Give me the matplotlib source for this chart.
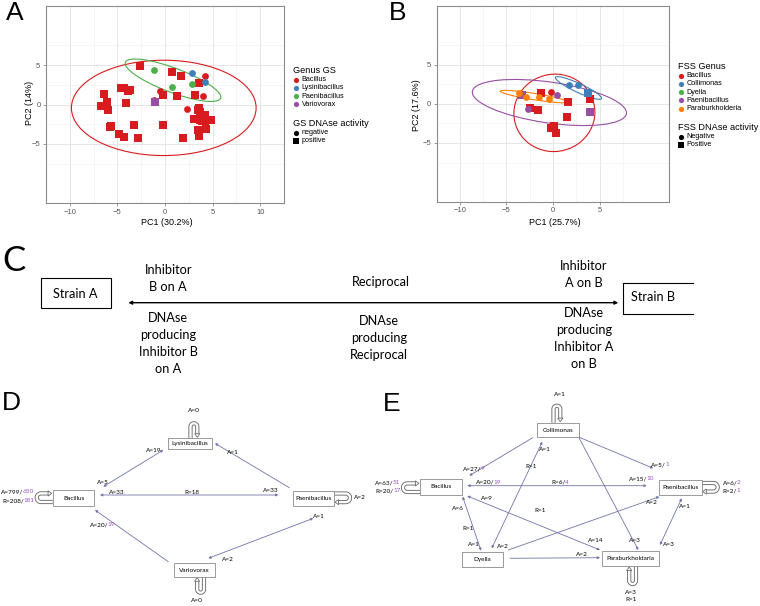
import numpy as np
import matplotlib.pyplot as plt
from matplotlib.patches import Ellipse, Rectangle, Polygon

plt.rcParams["font.family"] = ["Liberation Sans", "DejaVu Sans"]

# ---------------- panel A : GS strains PCA ----------------
gs_genus_names = ["Bacillus", "Lysinibacillus", "Paenibacillus", "Variovorax"]
gs_pc1 = [-2.65, 0.71, 1.68, 3.61, -4.61, -4.29, -3.65, -3.87, -6.45, -6.13, -6.77, -6.03,
          -4.10, -0.23, 1.26, 3.13, 3.58, 3.45, 3.68, 4.23, 3.00, 3.65, 3.87, 4.23, 4.81,
          -5.71, -5.77, -3.26, -0.19, -4.87, -4.32, -2.84, 3.48, 4.35, 3.58, 1.94,
          4.19, -0.48, -1.19, 2.29, 4.03,
          2.87, 4.16,
          -1.19, 0.77, 2.87,
          -1.00]
gs_pc2 = [4.84, 4.08, 3.64, 2.75, 2.09, 2.15, 1.80, 1.68, 1.27, 0.32, -0.16, -0.70,
          0.22, 1.17, 1.11, 1.17, -0.47, -0.66, -0.92, -1.36, -1.80, -1.93, -2.06, -2.12, -1.99,
          -2.69, -2.88, -2.56, -2.66, -3.77, -4.15, -4.27, -3.20, -3.10, -3.96, -4.21,
          3.64, 1.74, 0.60, -0.60, 1.11,
          3.96, 2.82,
          4.37, 2.25, 2.66,
          0.32]
gs_genus = ["Bacillus"] * 41 + ["Lysinibacillus"] * 2 + ["Paenibacillus"] * 3 + ["Variovorax"]
gs_dnase = ["positive"] * 36 + ["negative"] * 10 + ["positive"]

gs_ell_genus = ["Bacillus", "Paenibacillus"]
gs_ell_x = [-0.13, 0.84]
gs_ell_y = [-0.43, 3.08]
gs_ell_w = [19.4, 11.0]
gs_ell_h = [12.1, 3.0]
gs_ell_angle = [0, -25]

# ---------------- panel B : FSS strains PCA ----------------
fss_genus_names = ["Bacillus", "Collimonas", "Dyella", "Paenibacillus", "Paraburkholderia"]
fss_pc1 = [-1.24, 1.63, 3.97, -2.48, -1.63, 1.54, 0.08, -0.22, 0.30,
           -0.22,
           -3.61, -2.87, -1.52, -0.44,
           -3.28, -2.64, 0.41, 3.97,
           1.76, 2.73, 3.75]
fss_pc2 = [1.43, 0.27, 0.62, -0.49, -0.81, -1.65, -2.81, -3.11, -3.78,
           1.49,
           1.41, 0.86, 0.89, 0.68,
           1.16, -0.65, 1.08, -1.05,
           2.43, 2.41, 1.35]
fss_genus = (["Bacillus"] * 10 + ["Paraburkholderia"] * 4 + ["Paenibacillus"] * 4
             + ["Collimonas"] * 3)
fss_dnase = (["Positive"] * 9 + ["Negative"] * 5 + ["Positive", "Negative", "Negative", "Positive"]
             + ["Negative", "Negative", "Positive"])

fss_ell_genus = ["Bacillus", "Paenibacillus", "Paraburkholderia", "Collimonas"]
fss_ell_x = [0.15, -0.39, -2.04, 2.74]
fss_ell_y = [-1.15, 0.17, 0.93, 2.03]
fss_ell_w = [8.7, 16.8, 7.36, 5.64]
fss_ell_h = [9.9, 5.2, 0.8, 1.1]
fss_ell_angle = [-4, -10, -10.8, -29]

# ---------------- panel C text ----------------
c_left_top = ["Inhibitor", "B on A"]
c_left_bottom = ["DNAse", "producing", "Inhibitor B", "on A"]
c_mid_top = ["Reciprocal"]
c_mid_bottom = ["DNAse", "producing", "Reciprocal"]
c_right_top = ["Inhibitor", "A on B"]
c_right_bottom = ["DNAse", "producing", "Inhibitor A", "on B"]

# ---------------- panel D / E networks ----------------
d_nodes = ["Lysinibacillus", "Bacillus", "Paenibacillus", "Variovorax"]
d_labels = ["A=0", "A=19", "A=1", "A=5", "A=33", "R=18", "A=33", "A=2", "A=1",
            "A=20/19", "A=2", "A=0", "A=799/650", "R=208/181"]
e_nodes = ["Collimonas", "Bacillus", "Paenibacillus", "Dyella", "Paraburkholdaria"]
e_labels = ["A=1", "A=27/9", "A=1", "R=1", "A=5/1", "A=63/51", "R=20/17", "A=20/19",
            "R=6/4", "A=15/10", "A=6/2", "R=2/1", "A=9", "A=2", "A=1", "A=6", "R=1",
            "R=1", "A=14", "A=3", "A=3", "A=1", "A=2", "A=2", "A=3", "R=1"]

SET1 = ["#D81B1F", "#3F80B8", "#4DAF4A", "#984EA3", "#FF7F00"]
gs_colors = dict(zip(gs_genus_names, [SET1[0], SET1[1], SET1[2], SET1[3]]))
fss_colors = dict(zip(fss_genus_names, SET1))
PURPLE = "#9a55c2"
EDGE = "#7074a8"
LOOP = "#6a6a6a"

W, H = 760, 606
fig = plt.figure(figsize=(W / 100, H / 100), dpi=100)
ov = fig.add_axes([0, 0, 1, 1])
ov.set_xlim(0, W)
ov.set_ylim(H, 0)
ov.axis("off")
renderer = fig.canvas.get_renderer()


def px_axes(x0, y0, x1, y1):
    return fig.add_axes([x0 / W, 1 - y1 / H, (x1 - x0) / W, (y1 - y0) / H])


def pca_panel(ax, pc1, pc2, genus, dnase, colors, ell, xlim, ylim, xticks, yticks):
    ax.set_xlim(*xlim)
    ax.set_ylim(*ylim)
    ax.set_xticks(xticks)
    ax.set_yticks(yticks)
    ax.set_xticks(np.arange(-12.5, 12.6, 5), minor=True)
    ax.set_yticks(np.arange(-12.5, 12.6, 5), minor=True)
    ax.grid(which="major", color="#e6e6e6", lw=0.7)
    ax.grid(which="minor", color="#f2f2f2", lw=0.5)
    ax.set_axisbelow(True)
    for sp in ax.spines.values():
        sp.set_color("#8c8c8c")
        sp.set_linewidth(0.8)
    ax.tick_params(which="major", length=2.5, width=0.6, color="#8c8c8c",
                   labelsize=5.5, labelcolor="#555555", pad=1.5)
    ax.tick_params(which="minor", length=0)
    for g, cx, cy, w, h, a in zip(*ell):
        ax.add_patch(Ellipse((cx, cy), w, h, angle=a, fill=False,
                             ec=colors[g], lw=0.8, zorder=2))
    pc1 = np.array(pc1)
    pc2 = np.array(pc2)
    genus = np.array(genus)
    dnase = np.array([d.lower() for d in dnase])
    for g, col in colors.items():
        for act, mk, s in (("negative", "o", 24), ("positive", "s", 28)):
            sel = (genus == g) & (dnase == act)
            if sel.any():
                ax.scatter(pc1[sel], pc2[sel], marker=mk, s=s, color=col, lw=0, zorder=3)


axA = px_axes(46, 6, 284, 203)
pca_panel(axA, gs_pc1, gs_pc2, gs_genus, gs_dnase, gs_colors,
          (gs_ell_genus, gs_ell_x, gs_ell_y, gs_ell_w, gs_ell_h, gs_ell_angle),
          (-11.64, 11.35), (-9.62, 9.1), [-10, -5, 0, 5, 10], [-5, 0, 5])
axB = px_axes(436.7, 6, 669.3, 201.7)
pca_panel(axB, fss_pc1, fss_pc2, fss_genus, fss_dnase, fss_colors,
          (fss_ell_genus, fss_ell_x, fss_ell_y, fss_ell_w, fss_ell_h, fss_ell_angle),
          (-10.0, 9.22), (-8.95, 6.92), [-10, -5, 0, 5], [-5, 0, 5])

# axis titles
ov.text(166.7, 222.7, "PC1 (30.2%)", fontsize=6.5, ha="center", va="center")
ov.text(30, 103, "PC2 (14%)", fontsize=6.5, ha="center", va="center", rotation=90)
ov.text(555, 222.7, "PC1 (25.7%)", fontsize=6.5, ha="center", va="center")
ov.text(416.7, 105, "PC2 (17.6%)", fontsize=6.5, ha="center", va="center", rotation=90)


def legend(x, y, title1, names, colors, title2, acts, step=8.2):
    ov.text(x, y, title1, fontsize=6.6, va="center")
    y += 9
    for n in names:
        ov.scatter([x + 3.2], [y], marker="o", s=14, color=colors[n], lw=0)
        ov.text(x + 8.8, y, n, fontsize=5.2, va="center")
        y += step
    y += 11
    ov.text(x, y, title2, fontsize=6.6, va="center")
    y += 9
    for a, mk in zip(acts, ["o", "s"]):
        ov.scatter([x + 3.2], [y], marker=mk, s=14, color="black", lw=0)
        ov.text(x + 8.8, y, a, fontsize=5.2, va="center")
        y += step


legend(292.7, 70.7, "Genus GS", gs_genus_names, gs_colors, "GS DNAse activity",
       ["negative", "positive"])
legend(677.7, 66.7, "FSS Genus", fss_genus_names, fss_colors, "FSS DNAse activity",
       ["Negative", "Positive"])

# panel letters
for letter, x, y in (("A", 15, 13.5), ("B", 398, 13.5), ("D", 11, 403), ("E", 392, 404)):
    ov.text(x, y, letter, fontsize=19, ha="center", va="center")
ov.text(2, 261, "C", fontsize=25, ha="left", va="center", family="Lato")

# ---------------- panel C ----------------
CF = dict(fontsize=9.2, family="Lato", ha="center", va="center")
ov.add_patch(Rectangle((40.7, 278.3), 70, 30, fill=False, ec="black", lw=0.8))
ov.text(75.7, 294.5, "Strain A", **CF)
ov.plot([693.3, 623.3, 623.3, 693.3], [283.3, 283.3, 314.3, 314.3], color="black", lw=0.8)
ov.text(653.3, 297.3, "Strain B", **CF)
ov.annotate("", xy=(618.3, 302.7), xytext=(128.3, 302.7),
            arrowprops=dict(arrowstyle="<|-|>", color="black", lw=1.0,
                            mutation_scale=5, shrinkA=0, shrinkB=0))
for lines, x, y0 in ((c_left_top, 168.3, 270), (c_left_bottom, 168.3, 318.3),
                     (c_mid_top, 381, 281.7), (c_mid_bottom, 379, 321),
                     (c_right_top, 584, 265.7), (c_right_bottom, 584, 313.3)):
    for i, s in enumerate(lines):
        ov.text(x, y0 + i * 17, s, **CF)

# ---------------- panels D / E ----------------
NF = dict(fontsize=4.6, family="Lato")


def node(name, x0, y0, x1, y1):
    ov.add_patch(Rectangle((x0, y0), x1 - x0, y1 - y0, fill=True, fc="white",
                           ec="#8a8a8a", lw=0.6, zorder=3))
    ov.text((x0 + x1) / 2, (y0 + y1) / 2, name, ha="center", va="center", zorder=4, **NF)


def edge(p0, p1, both):
    ov.annotate("", xy=p1, xytext=p0,
                arrowprops=dict(arrowstyle="<|-|>" if both else "-|>", color=EDGE,
                                lw=0.6, mutation_scale=3.5, shrinkA=0, shrinkB=0))


def label(s, x, y, align=0.5):
    # black count, with the part after "/" in purple
    k = s.index("/") + 1 if "/" in s else len(s)
    t1 = ov.text(0, y, s[:k], ha="left", va="center", color="black", **NF)
    t2 = ov.text(0, y, s[k:], ha="left", va="center", color=PURPLE, **NF)
    w1 = t1.get_window_extent(renderer).width - 0.7 if s[:k] else 0
    w2 = t2.get_window_extent(renderer).width if s[k:] else 0
    x0 = x - align * (w1 + w2)
    t1.set_x(x0)
    t2.set_x(x0 + w1)


def uturn(base, out, lat, r, length):
    base = np.array(base, float)
    o = np.array(out, float)
    l = np.array(lat, float)
    gap, a, hw = 1.0, 3.6, 2.6
    t = np.linspace(np.pi, 0, 24)
    pts = [base]
    pts += [base + (length - r) * o + r * l + r * (np.cos(tt) * l + np.sin(tt) * o) for tt in t]
    pts.append(base + 2 * r * l + (gap + a) * o)
    pts = np.array(pts)
    ov.plot(pts[:, 0], pts[:, 1], color=LOOP, lw=3.0, solid_capstyle="butt", zorder=2)
    ov.plot(pts[:, 0], pts[:, 1], color="white", lw=1.7, solid_capstyle="butt", zorder=2)
    tip = base + 2 * r * l + gap * o
    back = base + 2 * r * l + (gap + a) * o
    ov.add_patch(Polygon([tip, back + hw * l, back - hw * l], closed=True,
                         fc="white", ec=LOOP, lw=0.6, zorder=2))


# D layout
d_boxes = [(168.3, 438.3, 211.7, 449.3), (52.7, 490, 94.3, 506),
           (292.7, 491, 334, 506), (174, 563.3, 215, 576.7)]
for n, b in zip(d_nodes, d_boxes):
    node(n, *b)
d_edges = [((289.3, 487.7), (215, 443.3), False), ((163.3, 450), (103.3, 486.7), True),
           ((100, 495), (278.3, 495), True), ((168.3, 561.7), (95, 510), False),
           ((208.3, 558.3), (313.3, 518.3), True)]
for p0, p1, both in d_edges:
    edge(p0, p1, both)
uturn((190.5, 438.3), (0, -1), (1, 0), 3.4, 15)
uturn((52.7, 502), (-1, 0), (0, -1), 4.3, 16)
uturn((334, 493.5), (1, 0), (0, 1), 4.3, 16)
uturn((204, 576.7), (0, 1), (-1, 0), 3.4, 16)
d_pos = [(193.3, 410.7, 0.5), (153.3, 450, 0.5), (232.3, 452.7, 0.5), (103, 482, 0.5),
         (116, 492.5, 0.5), (191.7, 492.3, 0.5), (270.7, 490.5, 0.5), (360, 497.3, 0.5),
         (318.3, 516.7, 0.5), (102.7, 525, 0.5), (227.7, 559.3, 0.5), (196.7, 600, 0.5),
         (33.5, 491.7, 1), (34.5, 500.7, 1)]
for s, (x, y, al) in zip(d_labels, d_pos):
    label(s, x, y, al)

# E layout
e_boxes = [(537.3, 422.7, 579.3, 437.3), (420, 479, 461.7, 495), (659.3, 480, 701.7, 495),
           (461.7, 551.7, 503.3, 566.7), (601.7, 550.7, 659.3, 566)]
for n, b in zip(e_nodes, e_boxes):
    node(n, *b)
e_edges = [((532.7, 437.7), (469.3, 475.7), False), ((491.7, 548.3), (542.3, 441.7), True),
           ((579.3, 437.3), (653.3, 468.3), False), ((579.3, 438.3), (638.3, 550), False),
           ((467.3, 485.7), (646.7, 485.7), True), ((467.3, 496), (600, 550), True),
           ((462.7, 496.7), (481, 550.7), True), ((508.3, 550), (659.3, 496.7), False),
           ((510, 558.3), (600, 557.7), False), ((660, 545), (681.7, 498.3), True)]
for p0, p1, both in e_edges:
    edge(p0, p1, both)
uturn((553.5, 422.7), (0, -1), (1, 0), 3.4, 17)
uturn((420, 492), (-1, 0), (0, -1), 4.3, 17)
uturn((701.7, 483), (1, 0), (0, 1), 4.3, 16)
uturn((636, 566), (0, 1), (-1, 0), 3.4, 18)
e_pos = [(560, 395, 0.5), (474, 469, 0.5), (544.3, 449.3, 0.5), (530.7, 466.7, 0.5),
         (660, 465, 0.5), (400.5, 482.7, 1), (400.5, 490.7, 1), (488.3, 482.3, 0.5),
         (560, 482.3, 0.5), (641.7, 479, 0.5), (722.5, 482.7, 0), (722.5, 490.7, 0),
         (486.7, 498.3, 0.5), (651.7, 502.7, 0.5), (685, 506.7, 0.5), (457.3, 508.3, 0.5),
         (540, 510, 0.5), (467.3, 528.3, 0.5), (595, 540, 0.5), (635, 540, 0.5),
         (668.3, 544, 0.5), (473.3, 545, 0.5), (502.7, 546.5, 0.5), (581.7, 555, 0.5),
         (630.7, 592.3, 0.5), (630.7, 599.3, 0.5)]
for s, (x, y, al) in zip(e_labels, e_pos):
    label(s, x, y, al)

fig.savefig("out.png", dpi=100)
